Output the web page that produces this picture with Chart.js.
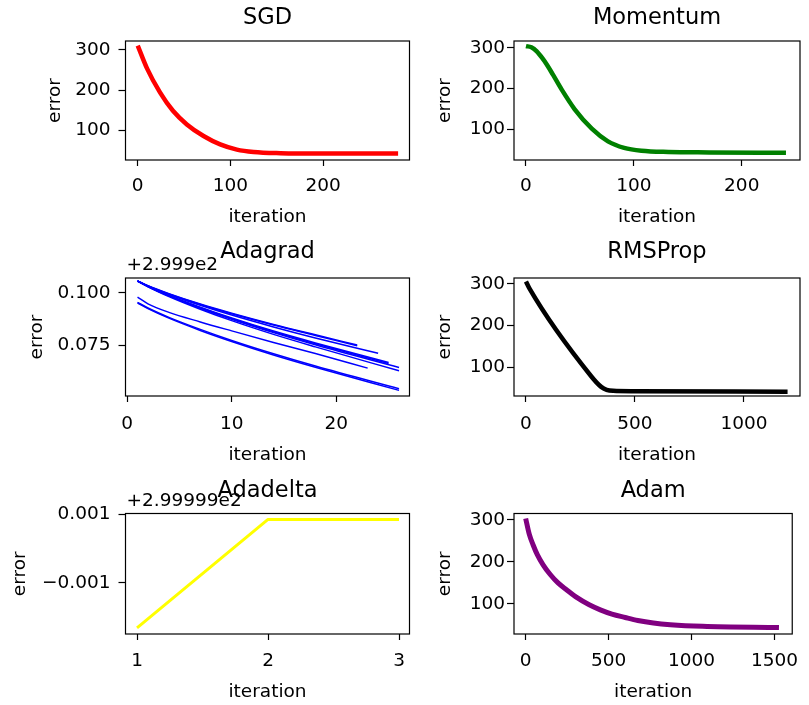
<!DOCTYPE html>
<html>
<head>
<meta charset="utf-8">
<script src="https://cdn.jsdelivr.net/npm/chart.js@4.4.1/dist/chart.umd.min.js"></script>
<style>
  html, body { margin: 0; padding: 0; background: #fff; }
  #fig { position: relative; width: 809px; height: 705px; }
  canvas { position: absolute; }
</style>
</head>
<body>
<div id="fig">
  <canvas id="sgd" width="420" height="235" style="left:0;top:0"></canvas>
  <canvas id="momentum" width="389" height="235" style="left:420px;top:0"></canvas>
  <canvas id="adagrad" width="420" height="235" style="left:0;top:235px"></canvas>
  <canvas id="rmsprop" width="389" height="235" style="left:420px;top:235px"></canvas>
  <canvas id="adadelta" width="420" height="235" style="left:0;top:470px"></canvas>
  <canvas id="adam" width="389" height="235" style="left:420px;top:470px"></canvas>
</div>
<script>
// values
const sgdIter = [0, 10, 24, 38, 53, 71, 89, 107, 125, 154, 200, 281];
const sgdError = [311, 254, 194, 148, 114, 85, 64, 51, 45, 42, 41, 41];

const momentumIter = [0, 5, 10, 15, 20, 25, 33, 45, 61, 76, 91, 107, 132, 170, 241];
const momentumError = [304, 301, 291, 275, 256, 234, 198, 150, 102, 71, 55, 48, 45, 44, 43];

// adagrad: error minus offset 2.999e2, sampled at these steps + the run's last iteration
const adagradSteps = [1, 2, 4, 7, 10, 14, 18];
const adagradEnds = [22, 22, 24, 25, 25, 26, 26, 23, 26, 26];
const adagradRunA = [0.1058, 0.1035, 0.0997, 0.0947, 0.0903, 0.0849, 0.0799, 0.0750];
const adagradRunA2 = [0.1057, 0.1034, 0.0995, 0.0945, 0.0900, 0.0846, 0.0796, 0.0746];
const adagradRunB = [0.1058, 0.1034, 0.0993, 0.0941, 0.0894, 0.0837, 0.0784, 0.0710];
const adagradRunC = [0.1058, 0.1032, 0.0988, 0.0932, 0.0880, 0.0817, 0.0760, 0.0666];
const adagradRunC2 = [0.1056, 0.1031, 0.0986, 0.0929, 0.0877, 0.0813, 0.0756, 0.0661];
const adagradRunD = [0.1058, 0.1031, 0.0986, 0.0927, 0.0874, 0.0810, 0.0751, 0.0642];
const adagradRunE = [0.1058, 0.1030, 0.0983, 0.0922, 0.0867, 0.0801, 0.0741, 0.0626];
const adagradRunF = [0.0980, 0.0948, 0.0907, 0.0861, 0.0818, 0.0762, 0.0709, 0.0639];
const adagradRunG = [0.0952, 0.0925, 0.0879, 0.0820, 0.0767, 0.0702, 0.0643, 0.0532];
const adagradRunG2 = [0.0955, 0.0928, 0.0883, 0.0825, 0.0772, 0.0708, 0.0649, 0.0540];
const adagradRuns = [adagradRunA, adagradRunA2, adagradRunB, adagradRunC, adagradRunC2,
  adagradRunD, adagradRunE, adagradRunF, adagradRunG, adagradRunG2];

const rmspropIter = [0, 15, 300, 345, 370, 400, 500, 1200];
const rmspropError = [306, 290, 78, 53, 46, 43.5, 42.5, 41.5];

// adadelta: error minus offset 2.99999e2
const adadeltaIter = [1, 2, 3];
const adadeltaError = [-0.00232, 0.00085, 0.00085];

const adamIter = [0, 22, 45, 70, 105, 148, 195, 246, 310, 383, 450, 520, 600, 676, 770, 872, 1067, 1527];
const adamError = [303, 265, 240, 217, 193, 170, 150, 134, 115, 98, 86, 76, 68, 61, 55, 51, 47, 44];

// tick values
const errTicks = [100, 200, 300];
const sgdXTicks = [0, 100, 200];
const adagradXTicks = [0, 10, 20];
const adagradYTicks = [0.075, 0.100];
const rmspropXTicks = [0, 500, 1000];
const adadeltaXTicks = [1, 2, 3];
const adadeltaYTicks = [-0.001, 0.001];
const adamXTicks = [0, 500, 1000, 1500];

Chart.defaults.font.family = '"DejaVu Sans", sans-serif';
Chart.defaults.color = '#000';

const pts = (xs, ys) => xs.map((x, i) => ({ x: x, y: ys[i] }));
const plain = v => String(v);
const threeDp = v => (v < 0 ? '\u2212' : '') + Math.abs(v).toFixed(3);

// matplotlib style frame around the axes
const boxPlugin = {
  id: 'box',
  afterDatasetsDraw(chart) {
    const { ctx, chartArea: a } = chart;
    ctx.save();
    ctx.strokeStyle = '#000';
    ctx.lineWidth = 1.2;
    ctx.strokeRect(a.left, a.top, a.right - a.left, a.bottom - a.top);
    ctx.restore();
  }
};

// the "+2.999e2" offset text above the y axis
const offsetPlugin = {
  id: 'offsetText',
  afterDraw(chart, args, opts) {
    if (!opts.text) return;
    const { ctx, chartArea: a } = chart;
    ctx.save();
    ctx.font = '18.5px "DejaVu Sans"';
    ctx.fillStyle = '#000';
    ctx.textAlign = 'left';
    ctx.textBaseline = 'alphabetic';
    ctx.fillText(opts.text, a.left + 1, a.top - 8);
    ctx.restore();
  }
};

const rows = [
  { titleTop: 4.5, titleBottom: 9.5, xHeight: 75, xTickPad: 8.7, xTitlePad: 6.9 },
  { titleTop: 3.5, titleBottom: 12.5, xHeight: 74, xTickPad: 10.9, xTitlePad: 3.4 },
  { titleTop: 8, titleBottom: 8.5, xHeight: 71, xTickPad: 9.9, xTitlePad: 1.4 }
];
const cols = [
  { yWidth: 125.5, padRight: 10.5, yTickPad: 8 },
  { yWidth: 94, padRight: 9, yTickPad: 2 }
];

function line(data, color, width) {
  return { data: data, borderColor: color, backgroundColor: color, borderWidth: width,
    pointRadius: 0, fill: false, cubicInterpolationMode: 'monotone', borderJoinStyle: 'round' };
}

function makeChart(id, row, col, o) {
  const r = rows[row], c = cols[col];
  return new Chart(document.getElementById(id), {
    type: 'line',
    data: { datasets: o.datasets },
    options: {
      responsive: false,
      animation: false,
      devicePixelRatio: 1,
      layout: { padding: { left: 0, right: c.padRight, top: 0, bottom: 0 } },
      plugins: {
        legend: { display: false },
        tooltip: { enabled: false },
        title: {
          display: true, text: o.title, color: '#000', fullSize: false,
          font: { size: 22.5, weight: 'normal' },
          padding: { top: r.titleTop, bottom: r.titleBottom }
        },
        offsetText: { text: o.offsetText || '' }
      },
      scales: {
        x: {
          type: 'linear', min: o.xMin, max: o.xMax,
          afterBuildTicks: s => { s.ticks = o.xTicks.map(v => ({ value: v })); },
          afterFit: s => { s.height = r.xHeight; },
          grid: { drawOnChartArea: false, drawTicks: true, tickLength: 6, tickColor: '#000', tickWidth: 1.2 },
          border: { display: false },
          ticks: { color: '#000', font: { size: 18.5 }, padding: r.xTickPad, maxRotation: 0, autoSkip: false, callback: plain },
          title: { display: true, text: 'iteration', color: '#000', font: { size: 18.5 }, padding: { top: 0, bottom: r.xTitlePad } }
        },
        y: {
          type: 'linear', min: o.yMin, max: o.yMax,
          afterBuildTicks: s => { s.ticks = o.yTicks.map(v => ({ value: v })); },
          afterFit: s => { s.width = c.yWidth; },
          grid: { drawOnChartArea: false, drawTicks: true, tickLength: 7, tickColor: '#000', tickWidth: 1.2 },
          border: { display: false },
          ticks: { color: '#000', font: { size: 18.5 }, padding: c.yTickPad, autoSkip: false, callback: o.yFormat || plain },
          title: { display: true, text: 'error', color: '#000', font: { size: 18.5 }, padding: { top: o.yTitlePad, bottom: 0 } }
        }
      }
    },
    plugins: [boxPlugin, offsetPlugin]
  });
}

makeChart('sgd', 0, 0, {
  title: 'SGD', datasets: [line(pts(sgdIter, sgdError), '#ff0000', 4.5)],
  xMin: -13.2, xMax: 293.3, xTicks: sgdXTicks,
  yMin: 25, yMax: 322.5, yTicks: errTicks, yTitlePad: 43.9
});

makeChart('momentum', 0, 1, {
  title: 'Momentum', datasets: [line(pts(momentumIter, momentumError), '#008000', 4.5)],
  xMin: -11.1, xMax: 254, xTicks: sgdXTicks,
  yMin: 25.4, yMax: 316.4, yTicks: errTicks, yTitlePad: 13.9
});

makeChart('adagrad', 1, 0, {
  title: 'Adagrad', offsetText: '+2.999e2',
  datasets: adagradRuns.map((run, i) =>
    line(pts(adagradSteps.concat([adagradEnds[i]]), run), '#0000ff', 1.5)),
  xMin: -0.15, xMax: 27.0, xTicks: adagradXTicks,
  yMin: 0.0505, yMax: 0.1072, yTicks: adagradYTicks, yFormat: threeDp, yTitlePad: 25.9
});

makeChart('rmsprop', 1, 1, {
  title: 'RMSProp', datasets: [line(pts(rmspropIter, rmspropError), '#000000', 4.5)],
  xMin: -55, xMax: 1257, xTicks: rmspropXTicks,
  yMin: 31.1, yMax: 314.4, yTicks: errTicks, yTitlePad: 13.9
});

makeChart('adadelta', 2, 0, {
  title: 'Adadelta', offsetText: '+2.99999e2',
  datasets: [Object.assign(line(pts(adadeltaIter, adadeltaError), '#ffff00', 3), { cubicInterpolationMode: 'default', tension: 0 })],
  xMin: 0.912, xMax: 3.08, xTicks: adadeltaXTicks,
  yMin: -0.0025, yMax: 0.001023, yTicks: adadeltaYTicks, yFormat: threeDp, yTitlePad: 8.9
});

makeChart('adam', 2, 1, {
  title: 'Adam', datasets: [line(pts(adamIter, adamError), '#800080', 5)],
  xMin: -70.4, xMax: 1607, xTicks: adamXTicks,
  yMin: 28.8, yMax: 314.7, yTicks: errTicks, yTitlePad: 13.9
});
</script>
</body>
</html>
